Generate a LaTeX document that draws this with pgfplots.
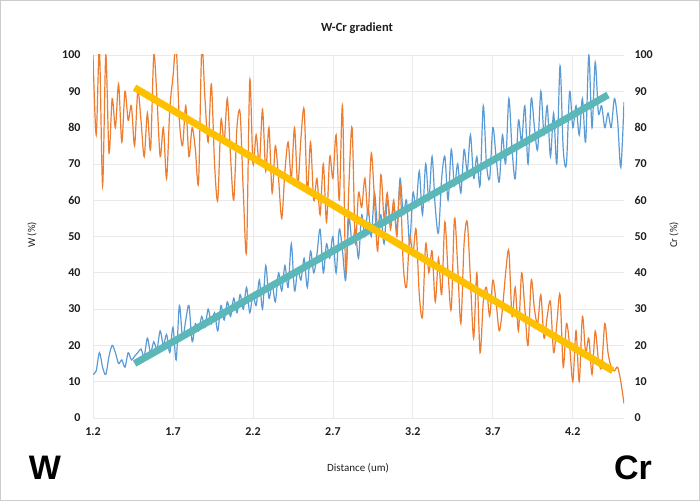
\documentclass[border=0pt]{standalone}
\usepackage{pgfplots}
\pgfplotsset{compat=1.18}
\usepackage{pgfplotstable}
\usepackage{fontspec}
\setmainfont{Carlito}
\newfontfamily\bigfont{Liberation Sans}
\definecolor{wcol}{RGB}{237,125,49}
\definecolor{crcol}{RGB}{91,155,213}
\definecolor{wtrend}{RGB}{255,192,0}
\definecolor{crtrend}{RGB}{92,184,184}
\definecolor{gridc}{RGB}{234,234,234}
\definecolor{txt}{RGB}{30,30,30}

\pgfplotstableread{
x W Cr
1.20 100 12
1.22 78 13
1.24 102 18
1.26 64 14
1.28 100 12
1.30 73 17
1.32 88 20
1.34 80 18
1.36 92 15
1.38 76 16
1.40 90 14
1.42 82 18
1.44 86 16
1.46 75 17
1.48 90 18
1.50 82 19
1.52 72 17
1.54 84 22
1.56 74 18
1.58 100 21
1.60 88 19
1.62 72 24
1.64 80 20
1.66 66 23
1.68 85 18
1.70 94 25
1.72 102 16
1.74 82 31
1.76 75 22
1.78 86 27
1.80 72 31
1.82 80 21
1.84 74 26
1.86 65 24
1.88 102 28
1.90 88 25
1.92 76 30
1.94 92 26
1.96 70 29
1.98 60 24
2.00 82 31
2.02 76 27
2.04 88 32
2.06 72 28
2.08 60 33
2.10 80 29
2.12 84 34
2.14 62 30
2.16 46 36
2.18 93 29
2.20 70 34
2.22 78 31
2.24 70 38
2.26 85 30
2.28 68 42
2.30 80 33
2.32 62 37
2.34 75 32
2.36 66 40
2.38 55 35
2.40 68 42
2.42 76 36
2.44 66 48
2.46 80 35
2.48 64 41
2.50 77 38
2.52 85 44
2.54 62 36
2.56 76 46
2.58 60 40
2.60 66 45
2.62 56 52
2.64 70 40
2.66 54 48
2.68 72 44
2.70 66 50
2.72 78 40
2.74 60 52
2.76 86 46
2.78 40 38
2.80 64 55
2.82 80 48
2.84 48 52
2.86 62 44
2.88 58 56
2.90 66 50
2.92 56 58
2.94 73 50
2.96 60 62
2.98 46 52
3.00 67 56
3.02 55 48
3.04 62 60
3.06 52 54
3.08 60 58
3.10 50 52
3.12 64 66
3.14 42 56
3.16 36 60
3.18 50 48
3.20 45 62
3.22 52 58
3.24 34 68
3.26 28 56
3.28 48 70
3.30 40 60
3.32 46 72
3.34 32 58
3.36 44 51
3.38 34 66
3.40 54 72
3.42 40 60
3.44 30 74
3.46 55 64
3.48 42 70
3.50 26 62
3.52 48 74
3.54 54 68
3.56 38 78
3.58 22 66
3.60 40 72
3.62 18 64
3.64 32 86
3.66 36 70
3.68 28 66
3.70 38 80
3.72 32 72
3.74 24 65
3.76 30 78
3.78 40 70
3.80 46 88
3.82 28 74
3.84 36 66
3.86 24 82
3.88 40 76
3.90 30 86
3.92 20 70
3.94 38 88
3.96 30 80
3.98 26 74
4.00 34 90
4.02 22 78
4.04 28 86
4.06 32 72
4.08 18 84
4.10 26 70
4.12 34 97
4.14 14 74
4.16 26 70
4.18 20 90
4.20 10 80
4.22 24 86
4.24 10 78
4.26 28 88
4.28 18 76
4.30 22 100
4.32 12 80
4.34 24 98
4.36 16 84
4.38 14 86
4.40 26 80
4.42 18 84
4.44 14 80
4.46 13 88
4.48 14 82
4.50 10 69
4.52 4 87
}\datatable

\pgfplotstableread{
x y
1.46 91
4.45 13
}\wtrendtable

\pgfplotstableread{
x y
1.46 15
4.42 89
}\crtrendtable

\begin{document}
\begin{tikzpicture}[x=1pt,y=1pt]
\path[use as bounding box] (0,0) rectangle (700,501);
\draw[gray!40, line width=0.8pt] (0.5,0.5) rectangle (699.5,500.5);
\begin{axis}[
  at={(93pt,83pt)}, anchor=south west,
  scale only axis, width=531pt, height=363pt,
  xmin=1.2, xmax=4.52, ymin=0, ymax=100,
  xtick={1.2,1.7,2.2,2.7,3.2,3.7,4.2},
  xticklabels={1.2,1.7,2.2,2.7,3.2,3.7,4.2},
  ytick={0,10,...,100},
  major tick length=0pt,
  axis line style={draw=none},
  grid=major,
  major grid style={gridc, line width=0.8pt},
  tick label style={font=\fontsize{12}{14}\selectfont\bfseries, text=txt},
  /pgf/number format/assume math mode=true,
  yticklabel style={xshift=-9pt},
  xticklabel style={yshift=-6pt},
  clip=true,
]
\addplot[crcol, line width=1.2pt, smooth, tension=0.5] table[x=x,y=Cr] {\datatable};
\addplot[wcol, line width=1.2pt, smooth, tension=0.5] table[x=x,y=W] {\datatable};
\addplot[crtrend, line width=7pt] table[x=x,y=y] {\crtrendtable};
\addplot[wtrend, line width=7pt] table[x=x,y=y] {\wtrendtable};
\end{axis}
\begin{axis}[
  at={(93pt,83pt)}, anchor=south west,
  scale only axis, width=531pt, height=363pt,
  xmin=1.2, xmax=4.52, ymin=0, ymax=100,
  axis y line*=right, axis x line=none,
  ytick={0,10,...,100},
  major tick length=0pt,
  axis line style={draw=none},
  tick label style={font=\fontsize{12}{14}\selectfont\bfseries, text=txt},
  /pgf/number format/assume math mode=true,
  yticklabel style={xshift=7pt},
]
\end{axis}
\node[font=\fontsize{12.5}{14}\selectfont\bfseries, text=txt] at (357,473) {W-Cr gradient};
\node[rotate=90, font=\fontsize{10.5}{12}\selectfont, text=txt] at (32,266) {W (\%)};
\node[rotate=90, font=\fontsize{10.5}{12}\selectfont, text=txt] at (674,266) {Cr (\%)};
\node[font=\fontsize{11}{13}\selectfont, text=txt] at (358,33) {Distance (um)};
\node[font=\bigfont\bfseries\fontsize{34}{40}\selectfont, text=black] at (45,33) {W};
\node[font=\bigfont\bfseries\fontsize{34}{40}\selectfont, text=black] at (633,33) {Cr};
\end{tikzpicture}
\end{document}
